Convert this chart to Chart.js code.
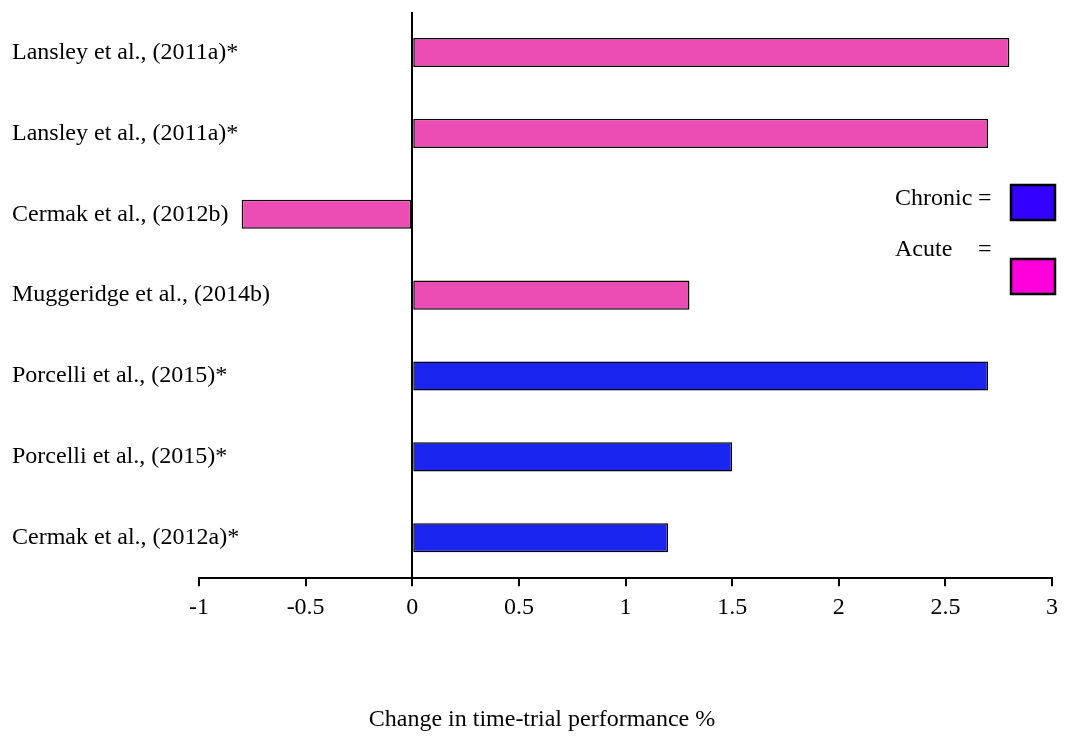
<!DOCTYPE html>
<html>
<head>
<meta charset="utf-8">
<script src="https://cdn.jsdelivr.net/npm/chart.js@4.4.0/dist/chart.umd.min.js"></script>
<style>
html,body{margin:0;padding:0;background:#fff;}
#wrap{width:1066px;height:736px;position:relative;}
</style>
</head>
<body>
<div id="wrap"><canvas id="c"></canvas></div>
<script>
const studies = [
  "Lansley et al., (2011a)*",
  "Lansley et al., (2011a)*",
  "Cermak et al., (2012b)",
  "Muggeridge et al., (2014b)",
  "Porcelli et al., (2015)*",
  "Porcelli et al., (2015)*",
  "Cermak et al., (2012a)*"
];
const acuteValues   = [2.8, 2.7, -0.8, 1.3, null, null, null];
const chronicValues = [null, null, null, null, 2.7, 1.5, 1.2];
const xTicks = [-1, -0.5, 0, 0.5, 1, 1.5, 2, 2.5, 3];
const seriesNames = ["Chronic", "Acute"];
const xTitle = "Change in time-trial performance %";

const FONT = "'Liberation Serif', 'Times New Roman', serif";

const shiftLabels = {
  id: 'shiftLabels',
  afterLayout(chart) {
    chart.scales.y.left = 12;
    chart.scales.y.right = 400;
  }
};

const legendPlugin = {
  id: 'customLegend',
  afterDraw(chart) {
    const ctx = chart.ctx;
    ctx.save();
    ctx.font = "24px " + FONT;
    ctx.fillStyle = "#000";
    ctx.textBaseline = "middle";
    ctx.textAlign = "left";
    ctx.fillText(seriesNames[0], 895, 199);
    ctx.fillText("=", 978, 199);
    ctx.fillText(seriesNames[1], 895, 250);
    ctx.fillText("=", 978, 250);
    ctx.lineWidth = 2.5;
    ctx.strokeStyle = "#000";
    ctx.fillStyle = "#3300ff";
    ctx.fillRect(1011, 185, 44, 35);
    ctx.strokeRect(1011, 185, 44, 35);
    ctx.fillStyle = "#ff00dd";
    ctx.fillRect(1011, 259, 44, 35);
    ctx.strokeRect(1011, 259, 44, 35);
    ctx.restore();
  }
};

new Chart(document.getElementById('c'), {
  type: 'bar',
  data: {
    labels: studies,
    datasets: [
      {
        label: seriesNames[1],
        data: acuteValues,
        backgroundColor: '#ec4db4',
        borderColor: '#000',
        borderWidth: 1.5,
        borderSkipped: false,
        grouped: false,
        barPercentage: 0.36,
        categoryPercentage: 1
      },
      {
        label: seriesNames[0],
        data: chronicValues,
        backgroundColor: '#1a26f0',
        borderColor: '#000',
        borderWidth: 1.5,
        borderSkipped: false,
        grouped: false,
        barPercentage: 0.36,
        categoryPercentage: 1
      }
    ]
  },
  options: {
    indexAxis: 'y',
    responsive: true,
    maintainAspectRatio: false,
    animation: false,
    layout: { padding: { top: 12, left: 32, right: 14, bottom: 2 } },
    plugins: {
      legend: { display: false },
      tooltip: { enabled: false },
      title: {
        display: true,
        position: 'bottom',
        text: xTitle,
        color: '#000',
        font: { family: FONT, size: 24, weight: 'normal' },
        padding: { top: 0, bottom: 0 }
      }
    },
    scales: {
      x: {
        type: 'linear',
        min: xTicks[0],
        max: xTicks[xTicks.length - 1],
        afterBuildTicks(scale) { scale.ticks = xTicks.map(v => ({ value: v })); },
        afterFit(scale) { scale.height = 127; },
        ticks: {
          color: '#000',
          font: { family: FONT, size: 24 },
          padding: 7,
          maxRotation: 0,
          autoSkip: false,
          callback: (v) => String(v)
        },
        grid: {
          drawOnChartArea: true,
          color: (c) => (c.tick && c.tick.value === 0) ? '#000' : 'rgba(0,0,0,0)',
          lineWidth: 2,
          tickColor: '#000',
          tickLength: 8,
          tickWidth: 2
        },
        border: { display: true, color: '#000', width: 2 }
      },
      y: {
        clip: false,
        afterFit(scale) { scale.width = 167; scale.paddingTop = 0; scale.paddingBottom = 0; },
        ticks: {
          color: '#000',
          font: { family: FONT, size: 24 },
          crossAlign: 'far',
          padding: 0,
          autoSkip: false
        },
        grid: { display: false },
        border: { display: false }
      }
    }
  },
  plugins: [shiftLabels, legendPlugin]
});
</script>
</body>
</html>
